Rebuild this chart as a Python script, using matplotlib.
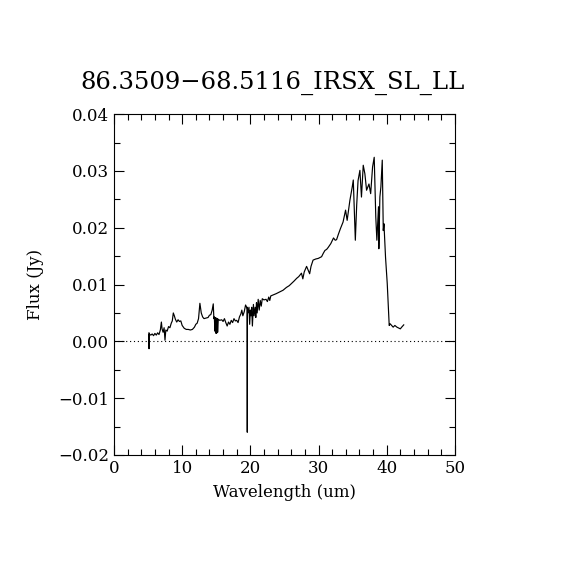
import matplotlib
matplotlib.use("Agg")
import matplotlib.pyplot as plt
from matplotlib.ticker import MultipleLocator, FuncFormatter

wavelength = [5.13, 5.14, 5.16, 5.4, 5.6, 5.8, 6.0, 6.2, 6.4, 6.6, 6.8, 6.95, 7.05, 7.2, 7.35, 7.48,
              7.6, 7.8, 8.0, 8.2, 8.4, 8.55, 8.7, 8.85, 9.0, 9.2, 9.4, 9.6, 9.8, 10.0, 10.3, 10.6,
              10.9, 11.2, 11.5, 11.8, 12.0, 12.2, 12.4, 12.6, 12.8, 13.0, 13.2, 13.5, 13.8, 14.0,
              14.2, 14.4, 14.56, 14.65, 14.72, 14.8, 14.85, 14.9, 14.95, 15.0, 15.05, 15.1, 15.15,
              15.2, 15.3, 15.5, 15.8, 16.0, 16.2, 16.4, 16.6, 16.8, 17.0, 17.2, 17.4, 17.6, 17.8,
              18.0, 18.2, 18.4, 18.6, 18.75, 18.9, 19.1, 19.3, 19.54, 19.55, 19.56, 19.65, 19.8,
              19.9, 20.0, 20.1, 20.2, 20.3, 20.45, 20.55, 20.7, 20.8, 20.9, 21.0, 21.15, 21.3,
              21.45, 21.6, 21.75, 22.0, 22.3, 22.5, 22.7, 22.85, 23.0, 23.4, 23.8, 24.3, 24.8,
              25.3, 25.7, 26.06, 26.4, 26.8, 27.1, 27.5, 27.7, 27.9, 28.25, 28.5, 28.7, 28.9,
              29.2, 29.6, 29.96, 30.45, 30.7, 30.94, 31.2, 31.4, 31.8, 32.2, 32.45, 32.65, 32.9,
              33.2, 33.6, 33.97, 34.2, 34.6, 34.95, 35.1, 35.4, 35.6, 35.8, 36.07, 36.3, 36.56,
              36.8, 37.05, 37.4, 37.65, 37.93, 38.17, 38.4, 38.56, 38.8, 38.85, 39.0, 39.15,
              39.35, 39.5, 39.6, 39.83, 40.08, 40.37, 40.5, 40.95, 41.2, 41.5, 42.0, 42.2, 42.5]
flux = [0.0015, -0.0013, 0.0013, 0.0011, 0.0013, 0.0010, 0.0014, 0.0011, 0.0015, 0.0012, 0.0020,
        0.0034, 0.0022, 0.0016, 0.0024, 0.0002, 0.0020, 0.0018, 0.0026, 0.0024, 0.0032, 0.0036,
        0.0050, 0.0045, 0.0039, 0.0034, 0.0038, 0.0035, 0.0036, 0.0028, 0.0023, 0.0021, 0.0021,
        0.0020, 0.0021, 0.0025, 0.0030, 0.0032, 0.0040, 0.0067, 0.0050, 0.0043, 0.0040, 0.0041,
        0.0042, 0.0046, 0.0047, 0.0055, 0.0066, 0.0040, 0.0043, 0.0018, 0.0042, 0.0015, 0.0040,
        0.0014, 0.0041, 0.0015, 0.0040, 0.0016, 0.0039, 0.0037, 0.0038, 0.0035, 0.0040, 0.0033,
        0.0027, 0.0034, 0.0030, 0.0037, 0.0033, 0.0040, 0.0036, 0.0037, 0.0033, 0.0043, 0.0048,
        0.0055, 0.0045, 0.0052, 0.0064, 0.0058, -0.0160, 0.0060, 0.0050, 0.0060, 0.0030, 0.0055,
        0.0045, 0.0060, 0.0027, 0.0065, 0.0045, 0.0060, 0.0042, 0.0068, 0.0050, 0.0074, 0.0055,
        0.0072, 0.0062, 0.0075, 0.0073, 0.0074, 0.0070, 0.0078, 0.0072, 0.0080, 0.0082, 0.0084,
        0.0087, 0.0090, 0.0095, 0.0098, 0.0102, 0.0106, 0.0111, 0.0114, 0.0120, 0.0110, 0.0122,
        0.0132, 0.0125, 0.0119, 0.0132, 0.0143, 0.0145, 0.0146, 0.0149, 0.0155, 0.0160, 0.0162,
        0.0165, 0.0172, 0.0182, 0.0178, 0.0179, 0.0188, 0.0198, 0.0210, 0.0231, 0.0213, 0.0248,
        0.0272, 0.0284, 0.0178, 0.0240, 0.0283, 0.0301, 0.0254, 0.0310, 0.0295, 0.0266, 0.0277,
        0.0260, 0.0307, 0.0324, 0.0219, 0.0178, 0.0237, 0.0163, 0.0254, 0.0272, 0.0319, 0.0195,
        0.0207, 0.0148, 0.0102, 0.0028, 0.0031, 0.0025, 0.0028, 0.0025, 0.0022, 0.0025, 0.0029]

title = "86.3509\u221268.5116_IRSX_SL_LL"
xlabel = "Wavelength (um)"
ylabel = "Flux (Jy)"

plt.rcParams['font.family'] = ['DejaVu Serif']
fig = plt.figure(figsize=(5.7, 5.7), dpi=100)
ax = fig.add_axes([0.2, 0.2018, 0.598, 0.598])
ax.plot(wavelength, flux, color='black', lw=0.85)
ax.axhline(0, color='black', lw=0.8, linestyle=(0, (1, 2.5)))
ax.set_xlim(0, 50)
ax.set_ylim(-0.02, 0.04)
ax.xaxis.set_major_locator(MultipleLocator(10))
ax.xaxis.set_minor_locator(MultipleLocator(2))
ax.yaxis.set_major_locator(MultipleLocator(0.01))
ax.yaxis.set_minor_locator(MultipleLocator(0.005))
ax.yaxis.set_major_formatter(FuncFormatter(lambda v, p: ("%.2f" % v).replace('-', '\u2212')))
ax.xaxis.set_major_formatter(FuncFormatter(lambda v, p: "%d" % v))
ax.tick_params(which='both', direction='in', top=True, right=True, labelsize=12, width=0.8)
ax.tick_params(which='major', length=7)
ax.tick_params(which='minor', length=4)
for s in ax.spines.values():
    s.set_linewidth(0.8)
ax.set_xlabel(xlabel, fontsize=12, labelpad=5)
ax.set_ylabel(ylabel, fontsize=12, labelpad=10)
fig.text(0.478, 0.855, title, ha='center', va='center', fontsize=17.5)
fig.savefig("out.png", dpi=100, facecolor='white')
